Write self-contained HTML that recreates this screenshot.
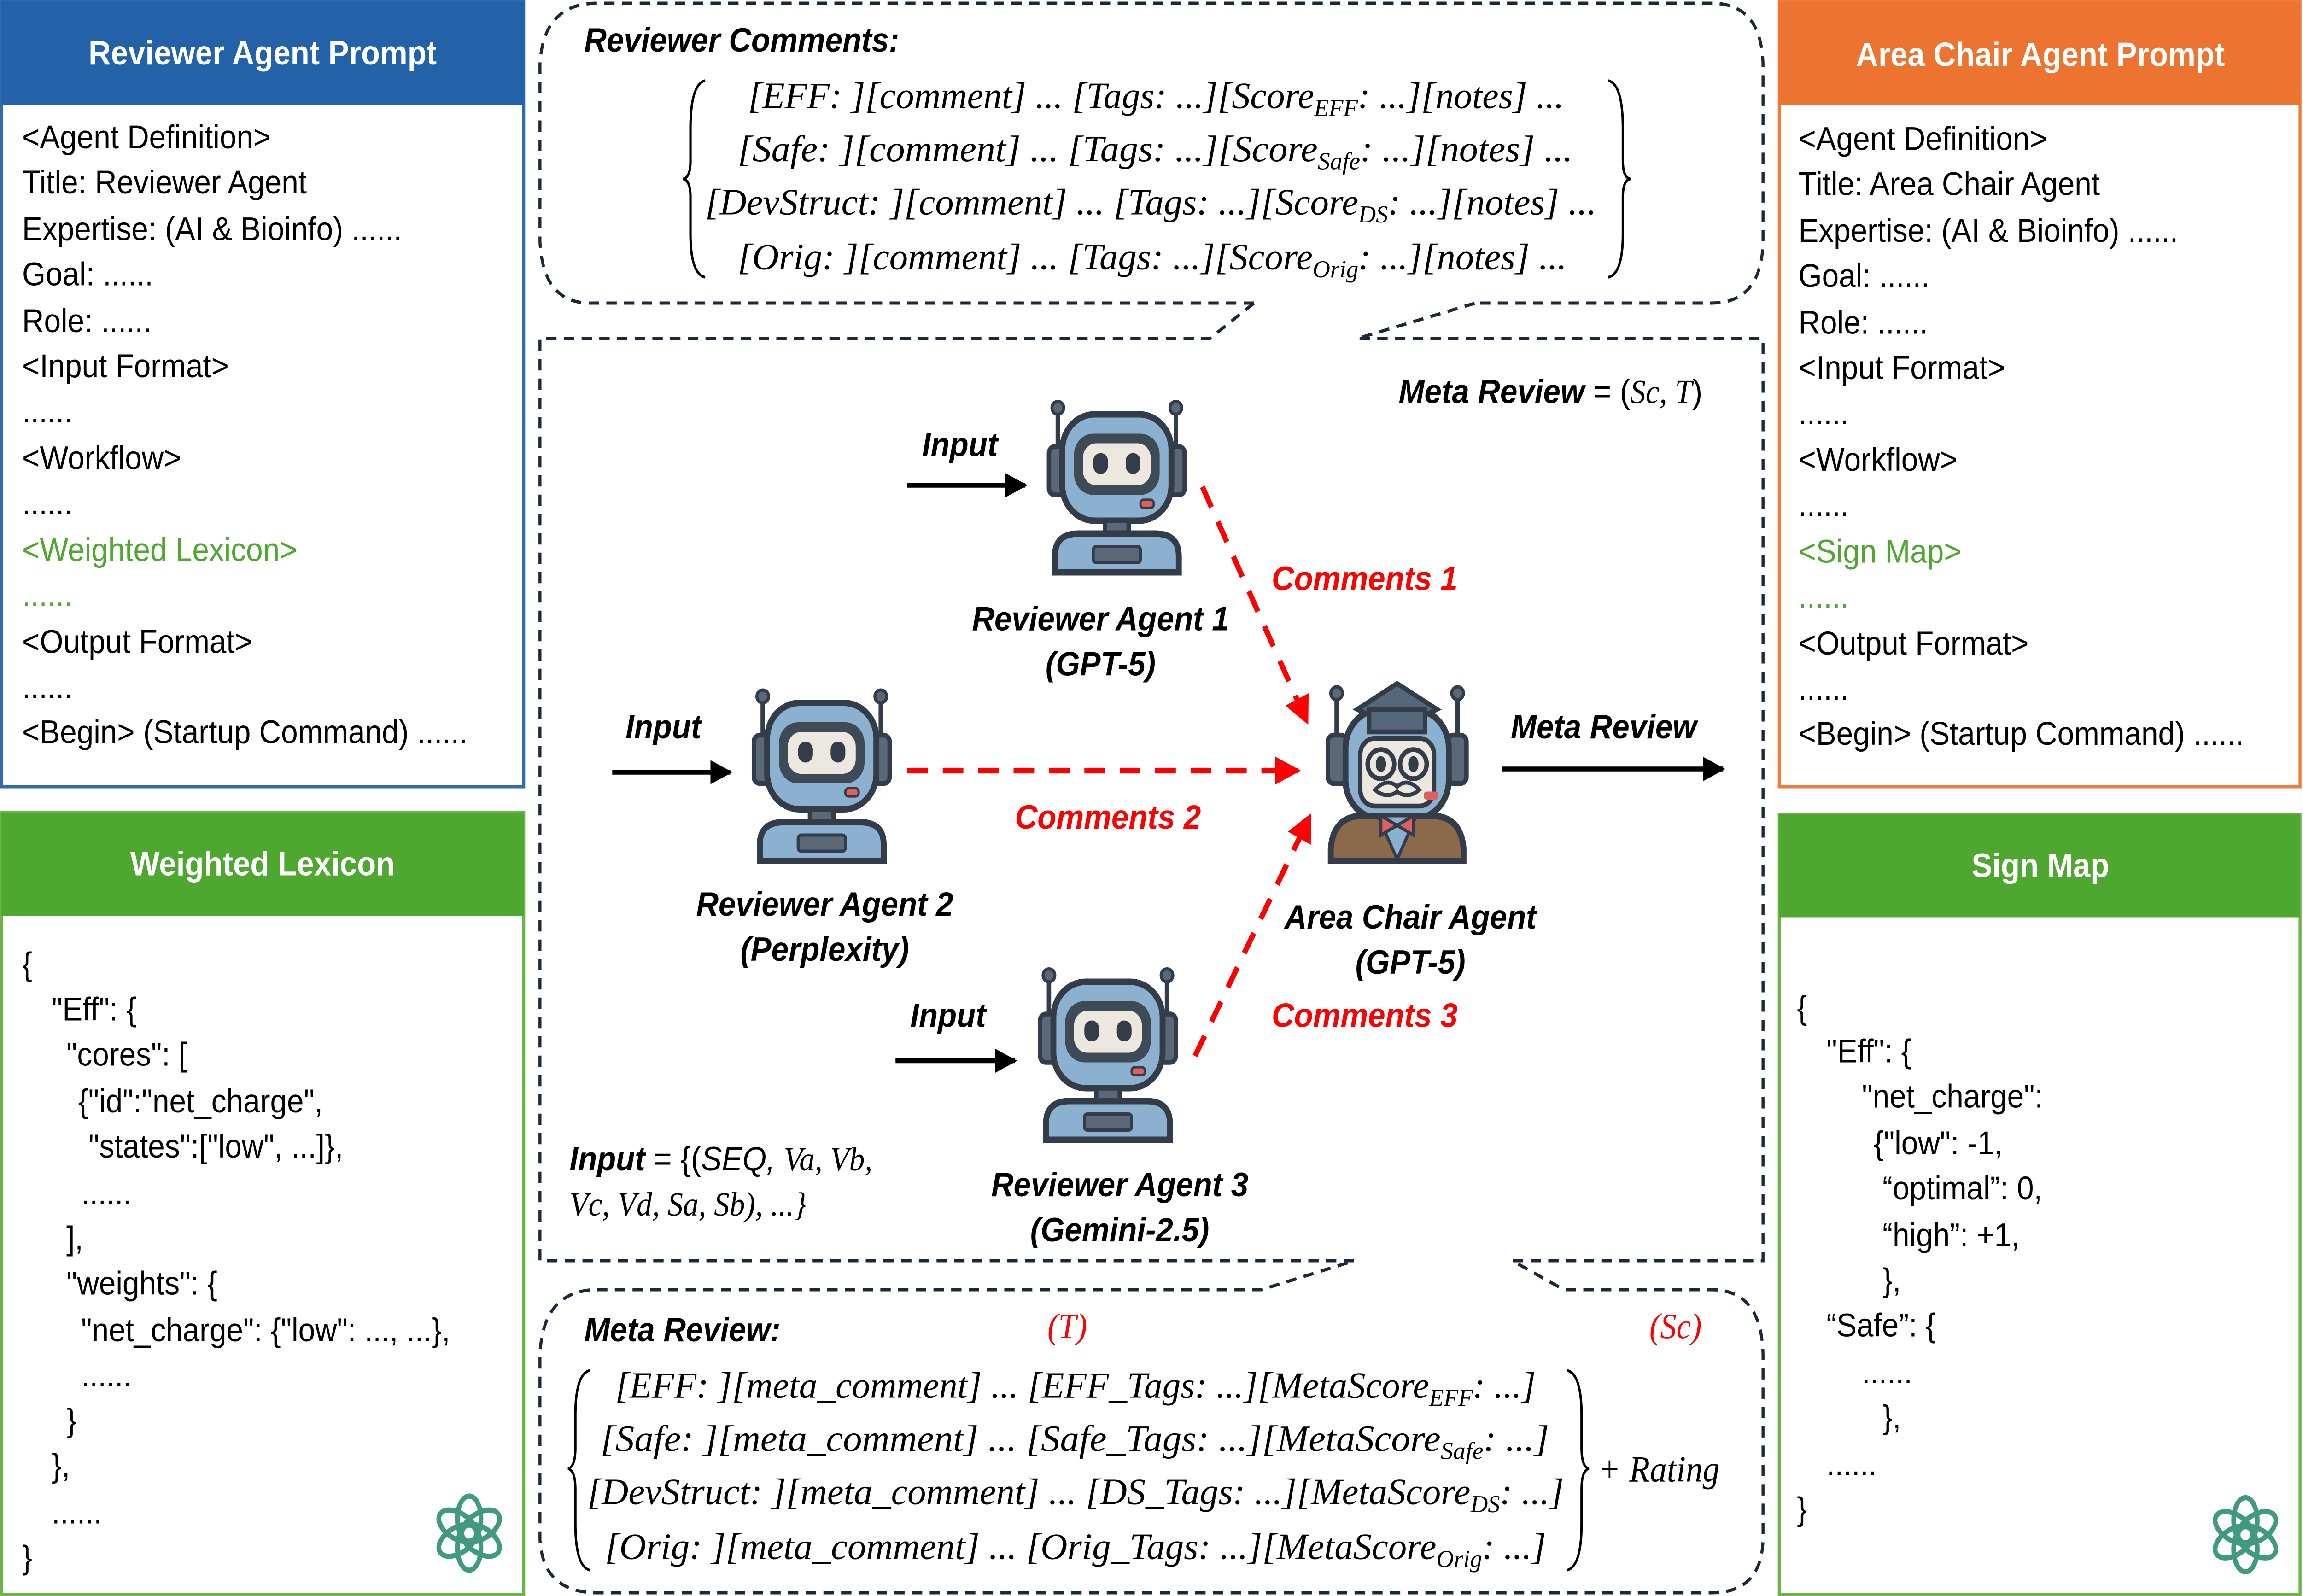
<!DOCTYPE html>
<html><head><meta charset="utf-8"><style>
html,body{margin:0;padding:0;background:#fff;width:100vw;height:100vh;overflow:hidden;}
svg{display:block;position:fixed;left:0;top:0;width:100vw;height:100vh;}
.t{font-family:"Liberation Sans",sans-serif;font-size:20.5px;fill:#000;}
.h{font-family:"Liberation Sans",sans-serif;font-size:21px;font-weight:bold;fill:#fff;}
.b{font-family:"Liberation Sans",sans-serif;font-size:21px;font-weight:bold;font-style:italic;fill:#000;}
.r{font-family:"Liberation Sans",sans-serif;font-size:21px;font-weight:bold;font-style:italic;fill:#f00;}
.m{font-family:"Liberation Serif",serif;font-size:23px;font-style:italic;fill:#000;}
.g{fill:#4ea72e;}
</style></head><body>
<svg viewBox="0 0 1561 990" preserveAspectRatio="none" xmlns="http://www.w3.org/2000/svg">
<defs>
<g id="robot">
 <line x1="6" y1="8" x2="6" y2="40" stroke="#333c48" stroke-width="3"/>
 <line x1="86" y1="8" x2="86" y2="40" stroke="#333c48" stroke-width="3"/>
 <circle cx="6" cy="8" r="4" fill="#5a6878" stroke="#333c48" stroke-width="2"/>
 <circle cx="86" cy="8" r="4" fill="#5a6878" stroke="#333c48" stroke-width="2"/>
 <rect x="0" y="32" width="13" height="30" rx="4" fill="#5a6878" stroke="#333c48" stroke-width="3"/>
 <rect x="79" y="32" width="13" height="30" rx="4" fill="#5a6878" stroke="#333c48" stroke-width="3"/>
 <rect x="9" y="12" width="74" height="66" rx="22" fill="#8bb0d0" stroke="#333c48" stroke-width="4"/>
 <rect x="17" y="24" width="58" height="38" rx="13" fill="#3f4a57"/>
 <rect x="23" y="30" width="46" height="26" rx="9" fill="#ece7df"/>
 <rect x="30" y="36" width="10" height="13" rx="5" fill="#333c48"/>
 <rect x="52" y="36" width="10" height="13" rx="5" fill="#333c48"/>
 <rect x="62" y="65" width="9" height="5" rx="2" fill="#e06060" stroke="#333c48" stroke-width="1.5"/>
 <rect x="38" y="78" width="16" height="8" fill="#5a6878" stroke="#333c48" stroke-width="3"/>
 <path d="M4,110 L4,100 Q4,86 20,86 L72,86 Q88,86 88,100 L88,110 Z" fill="#8bb0d0" stroke="#333c48" stroke-width="4"/>
 <rect x="30" y="94" width="32" height="10" rx="2" fill="#5a6878" stroke="#333c48" stroke-width="2"/>
</g>
<g id="gpt" fill="none" stroke="#3f9a7e" stroke-width="3.2">
 <ellipse cx="0" cy="-9" rx="8" ry="14" transform="rotate(0)"/>
 <ellipse cx="0" cy="-9" rx="8" ry="14" transform="rotate(60)"/>
 <ellipse cx="0" cy="-9" rx="8" ry="14" transform="rotate(120)"/>
 <ellipse cx="0" cy="-9" rx="8" ry="14" transform="rotate(180)"/>
 <ellipse cx="0" cy="-9" rx="8" ry="14" transform="rotate(240)"/>
 <ellipse cx="0" cy="-9" rx="8" ry="14" transform="rotate(300)"/>
</g>
<marker id="ab" viewBox="0 0 10 10" refX="9" refY="5" markerWidth="5" markerHeight="5" orient="auto"><path d="M0,0 L10,5 L0,10 Z" fill="#000"/></marker>
<marker id="ar" viewBox="0 0 10 10" refX="9" refY="5" markerWidth="5" markerHeight="5" orient="auto"><path d="M0,0 L10,5 L0,10 Z" fill="#f00"/></marker>
</defs>

<rect x="1" y="1" width="354" height="487" fill="#fff" stroke="#2e6bb0" stroke-width="2"/>
<rect x="1" y="1" width="354" height="64" fill="#2362a8"/>
<text class="h" x="178" y="40" text-anchor="middle">Reviewer Agent Prompt</text>
<g class="t">
<text x="15" y="92">&lt;Agent Definition&gt;</text>
<text x="15" y="120">Title: Reviewer Agent</text>
<text x="15" y="149">Expertise: (AI &amp; Bioinfo) ......</text>
<text x="15" y="177">Goal: ......</text>
<text x="15" y="206">Role: ......</text>
<text x="15" y="234">&lt;Input Format&gt;</text>
<text x="15" y="262">......</text>
<text x="15" y="291">&lt;Workflow&gt;</text>
<text x="15" y="319">......</text>
<text x="15" y="348" class="t g">&lt;Weighted Lexicon&gt;</text>
<text x="15" y="376" class="t g">......</text>
<text x="15" y="405">&lt;Output Format&gt;</text>
<text x="15" y="433">......</text>
<text x="15" y="461">&lt;Begin&gt; (Startup Command) ......</text>
</g>

<rect x="1" y="504" width="354" height="485" fill="#fff" stroke="#6ab44a" stroke-width="2"/>
<rect x="1" y="504" width="354" height="64" fill="#4ea72e"/>
<text class="h" x="178" y="543" text-anchor="middle">Weighted Lexicon</text>
<g class="t">
<text x="15" y="605">{</text>
<text x="35" y="633">"Eff": {</text>
<text x="45" y="661">"cores": [</text>
<text x="53" y="690">{"id":"net_charge",</text>
<text x="60" y="718">"states":["low", ...]},</text>
<text x="55" y="747">......</text>
<text x="45" y="775">],</text>
<text x="45" y="803">"weights": {</text>
<text x="55" y="832">"net_charge": {"low": ..., ...},</text>
<text x="55" y="860">......</text>
<text x="45" y="888">}</text>
<text x="35" y="916">},</text>
<text x="35" y="945">......</text>
<text x="15" y="973">}</text>
</g>
<use href="#gpt" x="318" y="951"/>

<rect x="1206" y="1" width="353" height="487" fill="#fff" stroke="#ef7d3a" stroke-width="2"/>
<rect x="1206" y="1" width="353" height="64" fill="#ec7430"/>
<text class="h" x="1383" y="41" text-anchor="middle">Area Chair Agent Prompt</text>
<g class="t">
<text x="1219" y="93">&lt;Agent Definition&gt;</text>
<text x="1219" y="121">Title: Area Chair Agent</text>
<text x="1219" y="150">Expertise: (AI &amp; Bioinfo) ......</text>
<text x="1219" y="178">Goal: ......</text>
<text x="1219" y="207">Role: ......</text>
<text x="1219" y="235">&lt;Input Format&gt;</text>
<text x="1219" y="263">......</text>
<text x="1219" y="292">&lt;Workflow&gt;</text>
<text x="1219" y="320">......</text>
<text x="1219" y="349" class="t g">&lt;Sign Map&gt;</text>
<text x="1219" y="377" class="t g">......</text>
<text x="1219" y="406">&lt;Output Format&gt;</text>
<text x="1219" y="434">......</text>
<text x="1219" y="462">&lt;Begin&gt; (Startup Command) ......</text>
</g>

<rect x="1206" y="505" width="353" height="484" fill="#fff" stroke="#6ab44a" stroke-width="2"/>
<rect x="1206" y="505" width="353" height="64" fill="#4ea72e"/>
<text class="h" x="1383" y="544" text-anchor="middle">Sign Map</text>
<g class="t">
<text x="1218" y="632">{</text>
<text x="1238" y="659">"Eff": {</text>
<text x="1262" y="687">"net_charge":</text>
<text x="1270" y="716">{"low": -1,</text>
<text x="1276" y="744">“optimal”: 0,</text>
<text x="1276" y="773">“high”: +1,</text>
<text x="1276" y="801">},</text>
<text x="1238" y="829">“Safe”: {</text>
<text x="1262" y="858">......</text>
<text x="1276" y="886">},</text>
<text x="1238" y="915">......</text>
<text x="1218" y="943">}</text>
</g>
<use href="#gpt" x="1522" y="952"/>

<g fill="none" stroke="#1b2838" stroke-width="2" stroke-dasharray="7,5">
 <path d="M850,188 L400,188 Q368,188 366,150 L366,40 Q368,2 405,2 L1160,2 Q1194,2 1195,40 L1195,150 Q1194,188 1160,188 L1000,188"/>
 <path d="M850,188 L820,210 L366,210 L366,782 L918,782 L855,800 L405,800 Q368,800 366,840 L366,955 Q368,988 405,988 L1160,988 Q1194,988 1195,955 L1195,840 Q1194,800 1160,800 L1060,800 L1025,782 L1195,782 L1195,210 L920,210 L1000,188"/>
</g>

<text class="b" x="396" y="32">Reviewer Comments:</text>
<path d="M478,50 Q468,52 468,80 L468,100 Q468,110 463,111 Q468,112 468,122 L468,145 Q468,170 478,172" fill="none" stroke="#000" stroke-width="1.6"/>
<path d="M1090,50 Q1100,52 1100,80 L1100,100 Q1100,110 1105,111 Q1100,112 1100,122 L1100,145 Q1100,170 1090,172" fill="none" stroke="#000" stroke-width="1.6"/>
<text class="m" x="507" y="67" textLength="553" lengthAdjust="spacingAndGlyphs">[EFF: ][comment] ... [Tags: ...][Score<tspan font-size="15" dy="5">EFF</tspan><tspan dy="-5">: ...][notes] ...</tspan></text>
<text class="m" x="500" y="100" textLength="566" lengthAdjust="spacingAndGlyphs">[Safe: ][comment] ... [Tags: ...][Score<tspan font-size="15" dy="5">Safe</tspan><tspan dy="-5">: ...][notes] ...</tspan></text>
<text class="m" x="478" y="133" textLength="604" lengthAdjust="spacingAndGlyphs">[DevStruct: ][comment] ... [Tags: ...][Score<tspan font-size="15" dy="5">DS</tspan><tspan dy="-5">: ...][notes] ...</tspan></text>
<text class="m" x="500" y="167" textLength="562" lengthAdjust="spacingAndGlyphs">[Orig: ][comment] ... [Tags: ...][Score<tspan font-size="15" dy="5">Orig</tspan><tspan dy="-5">: ...][notes] ...</tspan></text>

<text class="b" x="948" y="250">Meta Review <tspan font-weight="normal" font-style="normal">= (</tspan><tspan font-family="Liberation Serif" font-style="italic" font-weight="normal">Sc, T</tspan><tspan font-weight="normal" font-style="normal">)</tspan></text>

<text class="b" x="625" y="283">Input</text>
<line x1="615" y1="301" x2="695" y2="301" stroke="#000" stroke-width="3" marker-end="url(#ab)"/>
<use href="#robot" x="711" y="245"/>
<text class="b" x="746" y="391" text-anchor="middle">Reviewer Agent 1</text>
<text class="b" x="746" y="419" text-anchor="middle">(GPT-5)</text>

<text class="b" x="424" y="458">Input</text>
<line x1="415" y1="479" x2="495" y2="479" stroke="#000" stroke-width="3" marker-end="url(#ab)"/>
<use href="#robot" x="511" y="424"/>
<text class="b" x="559" y="568" text-anchor="middle">Reviewer Agent 2</text>
<text class="b" x="559" y="596" text-anchor="middle">(Perplexity)</text>

<text class="b" x="617" y="637">Input</text>
<line x1="607" y1="658" x2="688" y2="658" stroke="#000" stroke-width="3" marker-end="url(#ab)"/>
<use href="#robot" x="705" y="597"/>
<text class="b" x="759" y="742" text-anchor="middle">Reviewer Agent 3</text>
<text class="b" x="759" y="770" text-anchor="middle">(Gemini-2.5)</text>

<text class="b" x="386" y="726">Input <tspan font-weight="normal" font-style="normal">= {(</tspan><tspan font-weight="normal">SEQ, </tspan><tspan font-family="Liberation Serif" font-weight="normal">Va, Vb,</tspan></text>
<text x="386" y="754" font-family="Liberation Serif" font-style="italic" font-size="21">Vc, Vd, Sa, Sb), ...}</text>

<g transform="translate(900,418)">
 <line x1="6" y1="12" x2="6" y2="46" stroke="#333c48" stroke-width="3"/>
 <line x1="88" y1="12" x2="88" y2="46" stroke="#333c48" stroke-width="3"/>
 <circle cx="6" cy="12" r="4" fill="#5a6878" stroke="#333c48" stroke-width="2"/>
 <circle cx="88" cy="12" r="4" fill="#5a6878" stroke="#333c48" stroke-width="2"/>
 <rect x="0" y="38" width="13" height="30" rx="4" fill="#5a6878" stroke="#333c48" stroke-width="3"/>
 <rect x="81" y="38" width="13" height="30" rx="4" fill="#5a6878" stroke="#333c48" stroke-width="3"/>
 <rect x="12" y="22" width="70" height="68" rx="24" fill="#8bb0d0" stroke="#333c48" stroke-width="4"/>
 <rect x="22" y="40" width="50" height="42" rx="10" fill="#ece7df" stroke="#333c48" stroke-width="3"/>
 <circle cx="36" cy="56" r="9" fill="none" stroke="#333c48" stroke-width="3"/>
 <circle cx="58" cy="56" r="9" fill="none" stroke="#333c48" stroke-width="3"/>
 <ellipse cx="36" cy="56" rx="3.5" ry="5" fill="#333c48"/>
 <ellipse cx="58" cy="56" rx="3.5" ry="5" fill="#333c48"/>
 <path d="M32,72 Q40,64 47,70 Q54,64 62,72 Q54,78 47,73 Q40,78 32,72Z" fill="#ece7df" stroke="#333c48" stroke-width="2.5"/>
 <rect x="65" y="73" width="10" height="5" rx="2" fill="#e06060"/>
 <path d="M20,22 L47,6 L74,22 L47,34 Z" fill="#55677a" stroke="#333c48" stroke-width="3"/>
 <rect x="28" y="22" width="38" height="14" fill="#55677a" stroke="#333c48" stroke-width="3"/>
 <path d="M2,116 L2,108 Q4,88 24,88 L70,88 Q90,88 92,108 L92,116 Z" fill="#8a6a4a" stroke="#333c48" stroke-width="4"/>
 <path d="M34,88 L47,115 L60,88 Z" fill="#8bb0d0" stroke="#333c48" stroke-width="2"/>
 <path d="M36,88 L47,94 L58,88 L58,100 L47,94 L36,100Z" fill="#e06060" stroke="#333c48" stroke-width="2"/>
</g>
<text class="b" x="956" y="576" text-anchor="middle">Area Chair Agent</text>
<text class="b" x="956" y="604" text-anchor="middle">(GPT-5)</text>

<g stroke="#f00" stroke-width="3.5" stroke-dasharray="14,10" fill="none">
 <line x1="815" y1="302" x2="886" y2="448" marker-end="url(#ar)"/>
 <line x1="615" y1="478" x2="880" y2="478" marker-end="url(#ar)"/>
 <line x1="810" y1="655" x2="888" y2="506" marker-end="url(#ar)"/>
</g>
<text class="r" x="862" y="366">Comments 1</text>
<text class="r" x="688" y="514">Comments 2</text>
<text class="r" x="862" y="637">Comments 3</text>

<text class="b" x="1024" y="458">Meta Review</text>
<line x1="1018" y1="477" x2="1168" y2="477" stroke="#000" stroke-width="3" marker-end="url(#ab)"/>

<text class="b" x="396" y="832">Meta Review:</text>
<text x="710" y="830" fill="#f00" font-family="Liberation Serif" font-style="italic" font-size="22">(T)</text>
<text x="1118" y="830" fill="#f00" font-family="Liberation Serif" font-style="italic" font-size="22">(Sc)</text>
<path d="M400,850 Q390,852 390,878 L390,898 Q390,910 385,911 Q390,912 390,924 L390,945 Q390,972 400,974" fill="none" stroke="#000" stroke-width="1.6"/>
<path d="M1062,850 Q1072,852 1072,878 L1072,898 Q1072,910 1077,911 Q1072,912 1072,924 L1072,945 Q1072,972 1062,974" fill="none" stroke="#000" stroke-width="1.6"/>
<text class="m" x="417" y="867" textLength="624" lengthAdjust="spacingAndGlyphs">[EFF: ][meta_comment] ... [EFF_Tags: ...][MetaScore<tspan font-size="15" dy="5">EFF</tspan><tspan dy="-5">: ...]</tspan></text>
<text class="m" x="407" y="900" textLength="643" lengthAdjust="spacingAndGlyphs">[Safe: ][meta_comment] ... [Safe_Tags: ...][MetaScore<tspan font-size="15" dy="5">Safe</tspan><tspan dy="-5">: ...]</tspan></text>
<text class="m" x="398" y="933" textLength="662" lengthAdjust="spacingAndGlyphs">[DevStruct: ][meta_comment] ... [DS_Tags: ...][MetaScore<tspan font-size="15" dy="5">DS</tspan><tspan dy="-5">: ...]</tspan></text>
<text class="m" x="410" y="967" textLength="638" lengthAdjust="spacingAndGlyphs">[Orig: ][meta_comment] ... [Orig_Tags: ...][MetaScore<tspan font-size="15" dy="5">Orig</tspan><tspan dy="-5">: ...]</tspan></text>
<text class="m" x="1083" y="919">+ Rating</text>
</svg>
</body></html>
